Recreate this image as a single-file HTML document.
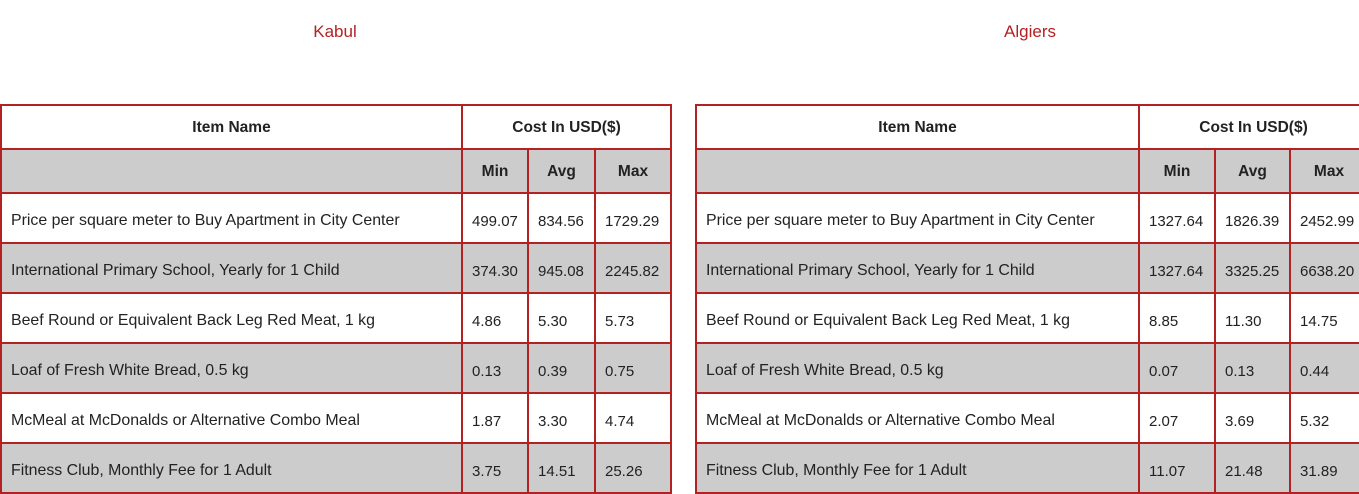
<!DOCTYPE html>
<html><head><meta charset="utf-8"><style>
body{margin:0;width:1359px;height:474px;overflow:hidden;background:#fff;font-family:"Liberation Sans",sans-serif;color:#222;position:relative}
.title{position:absolute;top:22px;font-size:17px;color:#b22222;text-align:center;width:200px}
table{position:absolute;top:104px;border-collapse:collapse;table-layout:fixed;font-size:15px}
td,th{border:2px solid #b22222;padding:6px 0 0 9px;white-space:nowrap;overflow:hidden}
td.n{font-size:15.9px}
th{text-align:center;padding:2px 0 0 0;font-weight:bold;font-size:15.5px}
tr.h{height:44px}
tr.d{height:50px}
tr.g{background:#cccccc}
</style></head><body>
<div class="title" style="left:235px">Kabul</div>
<div class="title" style="left:930px">Algiers</div>

<table style="left:0;width:670px">
<colgroup><col style="width:461px"><col style="width:66px"><col style="width:67px"><col style="width:76px"></colgroup>
<tr class="h"><th>Item Name</th><th colspan="3">Cost In USD($)</th></tr>
<tr class="h g"><th></th><th>Min</th><th>Avg</th><th>Max</th></tr>
<tr class="d"><td class="n">Price per square meter to Buy Apartment in City Center</td><td>499.07</td><td>834.56</td><td>1729.29</td></tr>
<tr class="d g"><td class="n">International Primary School, Yearly for 1 Child</td><td>374.30</td><td>945.08</td><td>2245.82</td></tr>
<tr class="d"><td class="n">Beef Round or Equivalent Back Leg Red Meat, 1 kg</td><td>4.86</td><td>5.30</td><td>5.73</td></tr>
<tr class="d g"><td class="n">Loaf of Fresh White Bread, 0.5 kg</td><td>0.13</td><td>0.39</td><td>0.75</td></tr>
<tr class="d"><td class="n">McMeal at McDonalds or Alternative Combo Meal</td><td>1.87</td><td>3.30</td><td>4.74</td></tr>
<tr class="d g"><td class="n">Fitness Club, Monthly Fee for 1 Adult</td><td>3.75</td><td>14.51</td><td>25.26</td></tr>
</table>

<table style="left:695px;width:672px">
<colgroup><col style="width:443px"><col style="width:76px"><col style="width:75px"><col style="width:78px"></colgroup>
<tr class="h"><th>Item Name</th><th colspan="3">Cost In USD($)</th></tr>
<tr class="h g"><th></th><th>Min</th><th>Avg</th><th>Max</th></tr>
<tr class="d"><td class="n">Price per square meter to Buy Apartment in City Center</td><td>1327.64</td><td>1826.39</td><td>2452.99</td></tr>
<tr class="d g"><td class="n">International Primary School, Yearly for 1 Child</td><td>1327.64</td><td>3325.25</td><td>6638.20</td></tr>
<tr class="d"><td class="n">Beef Round or Equivalent Back Leg Red Meat, 1 kg</td><td>8.85</td><td>11.30</td><td>14.75</td></tr>
<tr class="d g"><td class="n">Loaf of Fresh White Bread, 0.5 kg</td><td>0.07</td><td>0.13</td><td>0.44</td></tr>
<tr class="d"><td class="n">McMeal at McDonalds or Alternative Combo Meal</td><td>2.07</td><td>3.69</td><td>5.32</td></tr>
<tr class="d g"><td class="n">Fitness Club, Monthly Fee for 1 Adult</td><td>11.07</td><td>21.48</td><td>31.89</td></tr>
</table>
</body></html>
